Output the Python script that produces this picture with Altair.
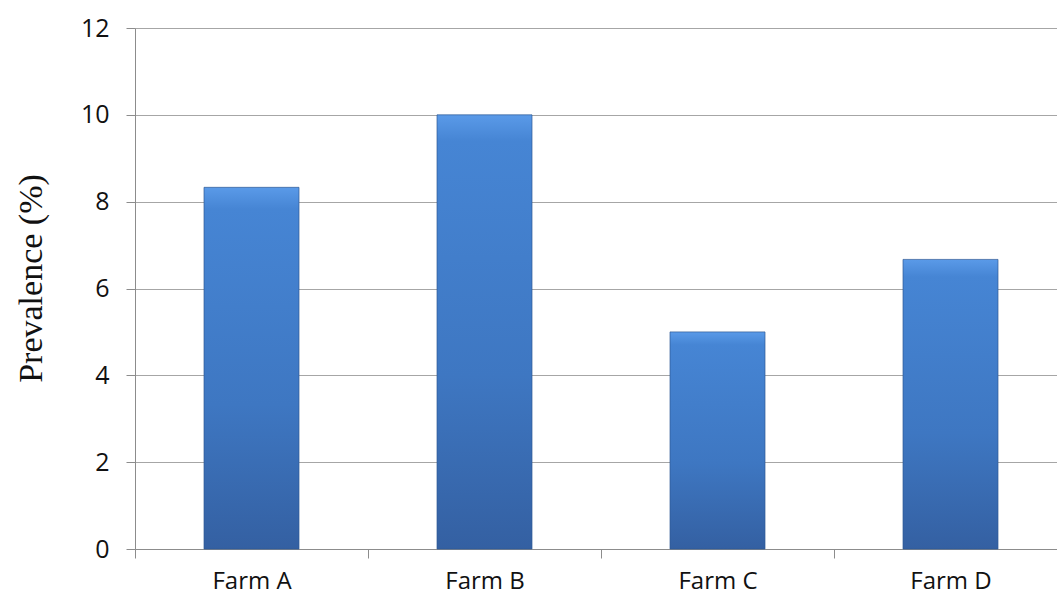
import altair as alt
import pandas as pd

farms = ["Farm A", "Farm B", "Farm C", "Farm D"]
prevalence = [8.33, 10.0, 5.0, 6.67]
y_ticks = [0, 2, 4, 6, 8, 10, 12]

df = pd.DataFrame({"farm": farms, "prev": prevalence})

gradient = alt.Gradient(
    gradient="linear",
    stops=[
        alt.GradientStop(color="#5a9ae8", offset=0),
        alt.GradientStop(color="#4685d4", offset=0.06),
        alt.GradientStop(color="#3e77c2", offset=0.6),
        alt.GradientStop(color="#3460a2", offset=1),
    ],
    x1=0, y1=0, x2=0, y2=1,
)

chart = alt.Chart(df).mark_bar(
    size=95, color=gradient, stroke="#2f5a94", strokeWidth=1, strokeOpacity=0.7
).encode(
    x=alt.X(
        "farm:N",
        sort=farms,
        title=None,
        scale=alt.Scale(paddingInner=0, paddingOuter=0, range=[0, 932]),
        axis=alt.Axis(
            tickBand="extent",
            tickSize=9,
            tickColor="#8c8c8c",
            domainColor="#8c8c8c",
            labelAngle=0,
            labelFont="Open Sans",
            labelFontSize=24,
            labelColor="#111111",
            labelPadding=11,
            grid=False,
        ),
    ),
    y=alt.Y(
        "prev:Q",
        title="Prevalence (%)",
        scale=alt.Scale(domain=[0, 12], nice=False),
        axis=alt.Axis(
            values=y_ticks,
            tickSize=9,
            tickColor="#8c8c8c",
            domainColor="#8c8c8c",
            gridColor="#a6a6a6",
            labelFont="Open Sans",
            labelFontSize=25,
            labelColor="#111111",
            labelPadding=17,
            titleFont="Liberation Serif",
            titleFontSize=34,
            titleFontWeight="normal",
            titleColor="#111111",
            titleX=-104,
            titleY=250,
            titleBaseline="middle",
        ),
    ),
).properties(
    width=922,
    height=521,
    padding={"left": 135, "top": 28, "right": 0, "bottom": 47},
    autosize=alt.AutoSizeParams(type="none"),
).configure_view(stroke=None).configure(background="white")

chart.save("out.html", embed_options={"renderer": "svg", "actions": False})
